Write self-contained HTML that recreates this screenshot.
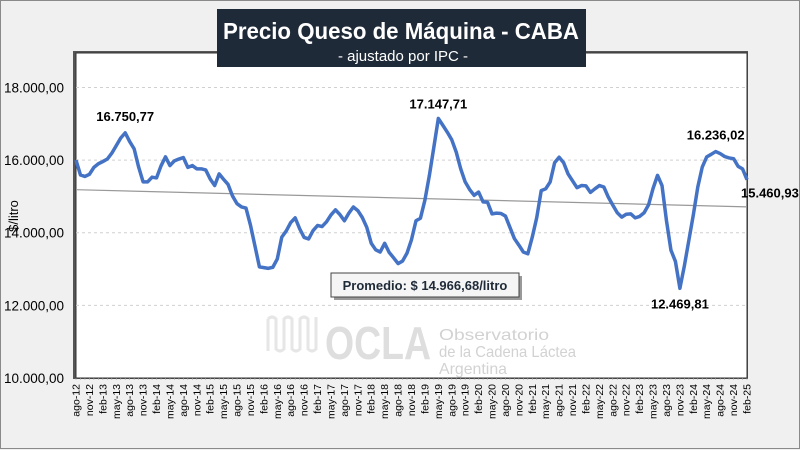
<!DOCTYPE html>
<html><head><meta charset="utf-8"><style>
body{margin:0;width:800px;height:449px;overflow:hidden;background:#f0f0f0;font-family:"Liberation Sans",sans-serif}
#wrap{position:absolute;left:0;top:0;width:798px;height:447px;border:1px solid #8a8a8a;background:#f0f0f0}
</style></head><body>
<div id="wrap">
<svg id="chart" width="800" height="449" style="position:absolute;left:0;top:0"></svg>
</div>
<script>
const months=['ene','feb','mar','abr','may','jun','jul','ago','sep','oct','nov','dic'];
const values=[16000,15590,15550,15610,15800,15900,15960,16030,16190,16400,16610,16751,16510,16310,15810,15400,15400,15530,15510,15840,16090,15850,15980,16030,16070,15800,15850,15760,15760,15730,15480,15300,15620,15470,15330,15010,14800,14710,14680,14210,13640,13060,13040,13020,13050,13280,13880,14050,14280,14410,14110,13870,13830,14060,14200,14170,14300,14490,14630,14500,14330,14540,14710,14610,14420,14150,13710,13530,13470,13710,13460,13310,13150,13220,13440,13810,14330,14400,14900,15580,16360,17148,16960,16770,16560,16220,15760,15400,15190,15030,15120,14850,14840,14520,14540,14530,14460,14150,13840,13660,13470,13420,13880,14420,15160,15210,15400,15930,16080,15930,15620,15430,15240,15300,15290,15110,15210,15300,15260,14980,14760,14550,14430,14510,14520,14410,14450,14550,14770,15220,15580,15300,14330,13520,13210,12470,13090,13790,14490,15260,15810,16090,16160,16236,16180,16100,16060,16040,15830,15760,15461];
const yTicks=[10000,12000,14000,16000,18000];
const yTickLabels=['10.000,00','12.000,00','14.000,00','16.000,00','18.000,00'];
const annotIdx=[11,81,143,135,150];
const annotText=['16.750,77','17.147,71','16.236,02','12.469,81','15.460,93'];
const avgText='Promedio: $ 14.966,68/litro';

const NS='http://www.w3.org/2000/svg';
const svg=document.getElementById('chart');
const L=75,R=746,T=52,B=377,yMin=10000,yMax=18950;
const n=values.length;
const xS=i=>L+(R-L)*i/(n-1);
const yS=v=>B-(v-yMin)/(yMax-yMin)*(B-T);
function mk(tag,attrs,parent){const e=document.createElementNS(NS,tag);for(const k in attrs)e.setAttribute(k,attrs[k]);(parent||svg).appendChild(e);return e;}

// plot area
mk('rect',{x:L-3,y:T-2,width:R-L+4,height:B-T+3,fill:'#555'});
const pa=mk('rect',{x:L,y:T,width:R-L,height:B-T,fill:'#fff',stroke:'#333','stroke-width':1});



// watermark
const wm=mk('g',{fill:'none'});


mk('path',{d:'M267 318 v32 M267 318 q4 -4 8 0 v30 q4 4 8 0 v-30 q4 -4 8 0 v30 q4 4 8 0 v-30 q4 -4 8 0 v30 q4 4 8 0 v-32',stroke:'#e6e6e6','stroke-width':3},wm);
const o=mk('text',{x:324,y:358,'font-size':46,'font-weight':'bold',fill:'#dedede',textLength:106,lengthAdjust:'spacingAndGlyphs'},wm);o.textContent='OCLA';
[['Observatorio',339,110],['de la Cadena Láctea',356,137],['Argentina',373,68]].forEach(([s,y,w])=>{const t=mk('text',{x:438,y:y,'font-size':16,fill:'#d2d2d2',textLength:w,lengthAdjust:'spacingAndGlyphs'},wm);t.textContent=s;});

// gridlines & y labels
yTicks.forEach((v,i)=>{
  if(v>yMin){const g=mk('line',{x1:L,x2:R,y1:yS(v),y2:yS(v),stroke:'#d0d0d0','stroke-dasharray':'3,3'});
  
  }
  const t=mk('text',{x:3,y:yS(v)+5,'font-size':13.5,fill:'#000'});
  t.textContent=yTickLabels[i];
  
  
});
const yt=mk('text',{x:0,y:0,'font-size':13,fill:'#000','text-anchor':'middle',transform:'translate(17,215) rotate(-90)'});
yt.textContent='$/litro';



// x ticks & labels
for(let i=0;i<n;i++){
  const x=xS(i);
  mk('line',{x1:x,x2:x,y1:B,y2:B+2,stroke:'#aaa','stroke-width':0.6});
  if(i%3===0){
    const m=(7+i)%12,yr=12+Math.floor((7+i)/12);
    const t=mk('text',{x:0,y:0,'font-size':10.5,fill:'#000','text-anchor':'end',transform:`translate(${x+3.5},${B+6}) rotate(-90)`});
    t.textContent=months[m]+'-'+yr;
    
    
  }
}

// trendline (least squares)
let sx=0,sy=0,sxy=0,sxx=0;values.forEach((v,i)=>{sx+=i;sy+=v;sxy+=i*v;sxx+=i*i;});
const b=(n*sxy-sx*sy)/(n*sxx-sx*sx),a=(sy-b*sx)/n;
const tl=mk('line',{x1:xS(0),y1:yS(a),x2:xS(n-1),y2:yS(a+b*(n-1)),stroke:'#999','stroke-width':1.2});



// series
const ln=mk('polyline',{points:values.map((v,i)=>xS(i)+','+yS(v)).join(' '),fill:'none',stroke:'#4472c4','stroke-width':3.5,'stroke-linejoin':'round'});



// annotations
const offs=[[0,-12,'middle'],[0,-10,'middle'],[0,-12,'middle'],[0,20,'middle'],[-6,18,'start']];
annotIdx.forEach((idx,k)=>{
  const t=mk('text',{x:xS(idx)+offs[k][0],y:yS(values[idx])+offs[k][1],'font-size':13,'font-weight':'bold',fill:'#000','text-anchor':offs[k][2]});
  t.textContent=annotText[k];
  
  
});

// average box
mk('rect',{x:333,y:275,width:188,height:24,fill:'#999'});
const ab=mk('rect',{x:330,y:272,width:188,height:24,fill:'#f5f5f5',stroke:'#444','stroke-width':1});


const at=mk('text',{x:424,y:289,'font-size':13,'font-weight':'bold',fill:'#1f2a38','text-anchor':'middle'});
at.textContent=avgText;



// title box (on top)
const tb=mk('rect',{x:216,y:8,width:369,height:58,fill:'#1f2a38'});


const tt=mk('text',{x:222,y:38,'font-size':23,'font-weight':'bold',fill:'#fff',textLength:356,lengthAdjust:'spacingAndGlyphs'});
tt.textContent='Precio Queso de Máquina - CABA';


const st=mk('text',{x:402,y:60,'text-anchor':'middle','font-size':15,fill:'#fff'});
st.textContent='- ajustado por IPC -';


</script>
</body></html>
